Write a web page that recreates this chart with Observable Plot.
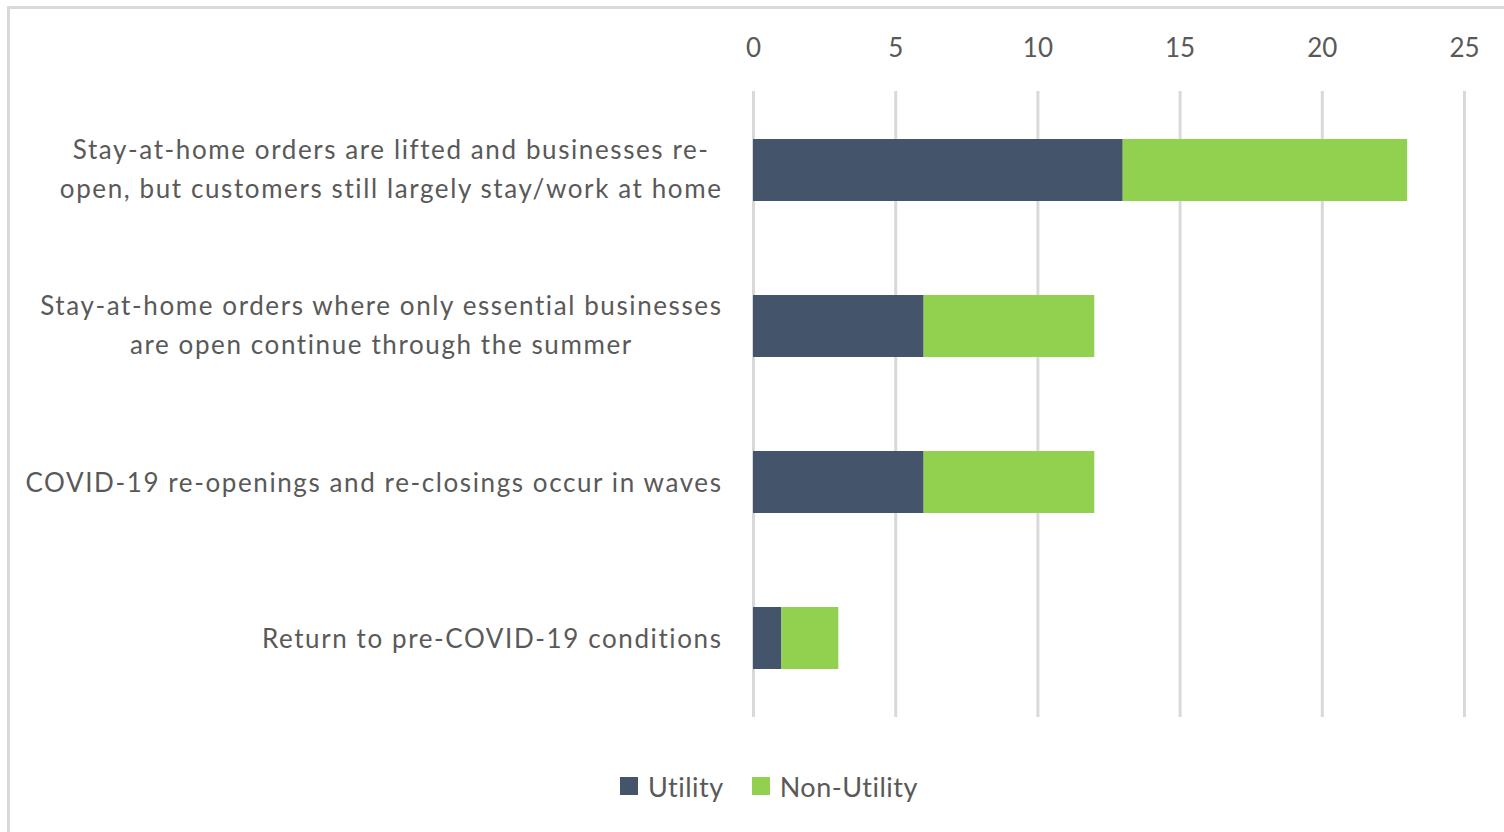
<!DOCTYPE html>
<html><head><meta charset="utf-8">
<script src="https://cdn.jsdelivr.net/npm/d3@7"></script>
<script src="https://cdn.jsdelivr.net/npm/@observablehq/plot@0.6"></script>
<style>
body{margin:0;background:#fff;font-family:Lato,sans-serif;width:1504px;height:832px;overflow:hidden;position:relative}
#frame{position:absolute;left:7px;top:6px;width:1520px;height:850px;border:3px solid #d9d9d9;box-sizing:border-box;pointer-events:none}
#chart{position:absolute;left:0;top:0}
#legend{position:absolute;top:769px;left:620px;display:flex;align-items:center;font-size:27px;letter-spacing:0.5px;color:#595959;height:34px}
.sw{width:18px;height:18px;display:inline-block;margin-right:10px}
.item{display:flex;align-items:center;margin-right:28px}
</style></head>
<body>
<div id="chart"></div>
<div id="legend"></div>
<div id="frame"></div>
<script>
const categories = [
  "Stay-at-home orders are lifted and businesses re-\nopen, but customers still largely stay/work at home",
  "Stay-at-home orders where only essential businesses\nare open continue through the summer",
  "COVID-19 re-openings and re-closings occur in waves",
  "Return to pre-COVID-19 conditions"
];
const seriesNames = ["Utility", "Non-Utility"];
const utility = [13, 6, 6, 1];
const nonUtility = [10, 6, 6, 2];
const colors = ["#44546a", "#92d050"];
const xTicks = [0, 5, 10, 15, 20, 25];

const data = [];
categories.forEach((c, i) => {
  data.push({cat: c, series: "Utility", value: utility[i]});
  data.push({cat: c, series: "Non-Utility", value: nonUtility[i]});
});

const plot = Plot.plot({
  width: 1504,
  height: 760,
  marginTop: 91,
  marginBottom: 43,
  marginLeft: 753,
  marginRight: 40,
  style: {fontFamily: "Lato, sans-serif", fontSize: "26px", color: "#595959", background: "transparent"},
  x: {domain: [0, 25], axis: null},
  y: {domain: categories, paddingInner: 0.6, paddingOuter: 0.3, axis: null},
  color: {domain: seriesNames, range: colors},
  marks: [
    Plot.ruleX(xTicks, {stroke: "#d9d9d9", strokeWidth: 3}),
    Plot.barX(data, {y: "cat", x: "value", fill: "series", order: seriesNames}),
    Plot.axisX({anchor: "top", ticks: xTicks, tickSize: 0, tickPadding: 35, fontSize: 26, fill: "#595959", tickFormat: d => d, label: null}),
    Plot.axisY({tickSize: 0, tickPadding: 31, fontSize: 26, fill: "#595959", lineHeight: 1.5, textOverflow: null, label: null})
  ]
});
document.getElementById("chart").appendChild(plot);

// style and center lines of multi-line labels within their right-aligned block
plot.querySelectorAll('g[aria-label="y-axis tick label"] text').forEach(t => {
  t.style.letterSpacing = "1.6px";
  const spans = t.querySelectorAll("tspan");
  const dy0 = parseFloat(t.getAttribute("dy") || 0);
  if (spans.length > 1) {
    const ws = Array.from(spans, s => s.getComputedTextLength());
    const W = Math.max(...ws);
    spans.forEach((s, k) => s.setAttribute("x", -(W - ws[k]) / 2));
    t.setAttribute("dy", String(dy0 - 4));
  } else {
    t.setAttribute("dy", String(dy0 - 3));
  }
});

const legend = document.getElementById("legend");
seriesNames.forEach((n, i) => {
  const it = document.createElement("div");
  it.className = "item";
  it.innerHTML = `<span class="sw" style="background:${colors[i]}"></span><span>${n}</span>`;
  legend.appendChild(it);
});
</script>
</body></html>
